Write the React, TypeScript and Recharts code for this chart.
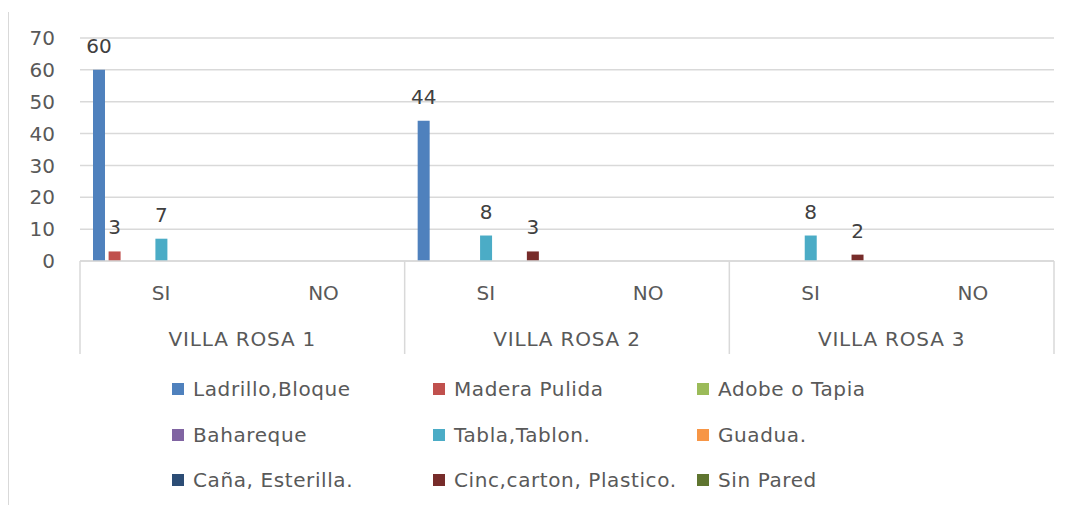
import { Bar, BarChart, CartesianGrid, LabelList, XAxis, YAxis } from 'recharts';

const categories = ['SI', 'NO', 'SI', 'NO', 'SI', 'NO'];
const groups = ['VILLA ROSA 1', 'VILLA ROSA 1', 'VILLA ROSA 2', 'VILLA ROSA 2', 'VILLA ROSA 3', 'VILLA ROSA 3'];

const ladrillo = [60, null, 44, null, null, null];
const madera = [3, null, null, null, null, null];
const adobe = [null, null, null, null, null, null];
const bahareque = [null, null, null, null, null, null];
const tabla = [7, null, 8, null, 8, null];
const guadua = [null, null, null, null, null, null];
const cana = [null, null, null, null, null, null];
const cinc = [null, null, 3, null, 2, null];
const sinPared = [null, null, null, null, null, null];

const yTicks = [0, 10, 20, 30, 40, 50, 60, 70];

const series = [
    { key: 'ladrillo', name: 'Ladrillo,Bloque', color: '#4F81BD', values: ladrillo },
    { key: 'madera', name: 'Madera Pulida', color: '#C0504D', values: madera },
    { key: 'adobe', name: 'Adobe o Tapia', color: '#9BBB59', values: adobe },
    { key: 'bahareque', name: 'Bahareque', color: '#8064A2', values: bahareque },
    { key: 'tabla', name: 'Tabla,Tablon.', color: '#4BACC6', values: tabla },
    { key: 'guadua', name: 'Guadua.', color: '#F79646', values: guadua },
    { key: 'cana', name: 'Caña, Esterilla.', color: '#2C4D75', values: cana },
    { key: 'cinc', name: 'Cinc,carton, Plastico.', color: '#772C2A', values: cinc },
    { key: 'sinPared', name: 'Sin Pared', color: '#5F7530', values: sinPared },
];

const data = categories.map((cat, i) => {
    const row: Record<string, any> = { key: `c${i}`, cat, group: groups[i] };
    series.forEach((s) => {
        row[s.key] = s.values[i];
    });
    return row;
});

const FONT = '"DejaVu Sans", sans-serif';
const TEXT = '#595959';
const LINE = '#d9d9d9';

const WIDTH = 1080;
const HEIGHT = 513;
const MARGIN = { top: 38, right: 26, left: 20, bottom: 157 };
const Y_WIDTH = 60;
const X_HEIGHT = 95;
const BAND = (WIDTH - MARGIN.left - MARGIN.right - Y_WIDTH) / categories.length;

function CategoryTick(props: any) {
    const { x, y, index } = props;
    const row = data[index];
    const isGroupStart = index % 2 === 0;
    const isLast = index === data.length - 1;
    return (
        <g>
            <text
                x={x}
                y={y + 32}
                textAnchor="middle"
                dominantBaseline="central"
                fill={TEXT}
                fontSize={20}
                fontFamily={FONT}
            >
                {row.cat}
            </text>
            {isGroupStart && (
                <text
                    x={x + BAND / 2}
                    y={y + 78}
                    textAnchor="middle"
                    dominantBaseline="central"
                    fill={TEXT}
                    fontSize={20}
                    fontFamily={FONT}
                    letterSpacing={0.8}
                >
                    {row.group}
                </text>
            )}
            {isGroupStart && <line x1={x - BAND / 2} x2={x - BAND / 2} y1={y} y2={y + 93} stroke={LINE} strokeWidth={1.5} />}
            {isLast && <line x1={x + BAND / 2} x2={x + BAND / 2} y1={y} y2={y + 93} stroke={LINE} strokeWidth={1.5} />}
        </g>
    );
}

const legendCols = [172, 433, 697];
const legendRows = [389, 435, 480];

function ChartLegend() {
    return (
        <>
            {series.map((s, i) => (
                <div
                    key={s.key}
                    style={{
                        position: 'absolute',
                        left: legendCols[i % 3],
                        top: legendRows[Math.floor(i / 3)] - 12,
                        height: 24,
                        display: 'flex',
                        alignItems: 'center',
                        whiteSpace: 'nowrap',
                        color: TEXT,
                        fontSize: 20,
                        letterSpacing: 0.6,
                        fontFamily: FONT,
                    }}
                >
                    <span style={{ display: 'inline-block', width: 12, height: 12, background: s.color, marginRight: 9 }} />
                    {s.name}
                </div>
            ))}
        </>
    );
}

export default function App() {
    return (
        <div style={{ position: 'relative', width: WIDTH, height: HEIGHT, margin: -8, background: '#fff', fontFamily: FONT }}>
            <div style={{ position: 'absolute', left: 7, top: 12, width: 2, height: HEIGHT - 12, background: LINE }} />
            <BarChart
                width={WIDTH}
                height={HEIGHT}
                data={data}
                margin={MARGIN}
                barSize={12}
                barGap={3.6}
            >
                <CartesianGrid vertical={false} stroke={LINE} strokeWidth={1.5} />
                <XAxis
                    dataKey="key"
                    height={X_HEIGHT}
                    interval={0}
                    tickLine={false}
                    tickSize={0}
                    tickMargin={0}
                    axisLine={{ stroke: LINE, strokeWidth: 1.5 }}
                    tick={<CategoryTick />}
                />
                <YAxis
                    width={Y_WIDTH}
                    domain={[0, 70]}
                    ticks={yTicks}
                    interval={0}
                    axisLine={false}
                    tickLine={false}
                    tickMargin={19}
                    tick={{ fill: TEXT, fontSize: 20, fontFamily: FONT }}
                />
                {series.map((s) => (
                    <Bar key={s.key} dataKey={s.key} name={s.name} fill={s.color} isAnimationActive={false}>
                        <LabelList
                            dataKey={s.key}
                            position="top"
                            offset={17}
                            fill="#404040"
                            fontSize={20}
                            fontFamily={FONT}
                            formatter={(v: any) => (v ? v : '')}
                        />
                    </Bar>
                ))}
            </BarChart>
            <ChartLegend />
        </div>
    );
}
